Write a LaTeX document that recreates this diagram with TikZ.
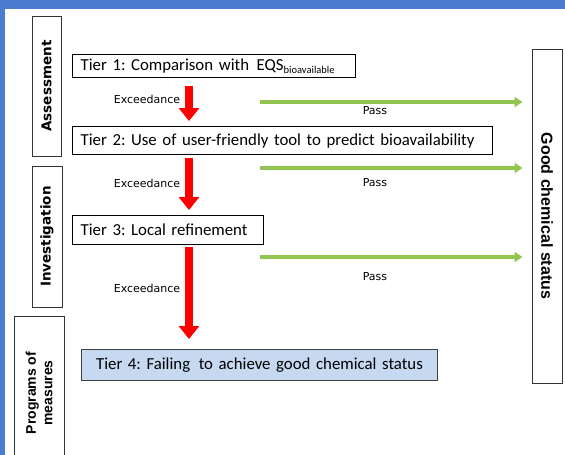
\documentclass[tikz,border=0pt]{standalone}
\usepackage{fontspec}
\setmainfont{Carlito}
\newfontfamily\dvs{DejaVu Sans}
\newfontfamily\lbs{Liberation Sans}
\usetikzlibrary{arrows.meta}
\definecolor{frameblue}{RGB}{74,124,208}
\definecolor{passgreen}{RGB}{146,196,80}
\definecolor{tierfill}{RGB}{198,217,241}
\frenchspacing
\begin{document}
\begin{tikzpicture}[x=1pt,y=-1pt,
  tierbox/.style={draw=black, line width=1.3pt, anchor=north west, inner xsep=8pt, inner ysep=0pt,
    font=\fontsize{16.8}{19}\selectfont, align=left},
  sidebox/.style={draw=black!80, line width=0.9pt, inner sep=0pt, rotate=90,
    font=\dvs\bfseries\fontsize{13.5}{15}\selectfont},
  redarrow/.style={draw=red, line width=8pt, -{Triangle[width=20pt,length=13pt]}},
  greenarrow/.style={draw=passgreen, line width=4pt, -{Triangle[width=10pt,length=8pt]}},
  lbl/.style={font=\dvs\fontsize{11}{13}\selectfont, inner sep=0pt}]
\useasboundingbox (0,0) rectangle (565,455);
\fill[white] (0,0) rectangle (565,455);
\fill[frameblue] (0,0) rectangle (565,9);
\fill[frameblue] (0,0) rectangle (5,455);

% side boxes
\node[sidebox, minimum width=140pt, minimum height=29pt] (ass) at (46.5,86) {Assessment};
\node[sidebox, minimum width=141pt, minimum height=30pt] (inv) at (47,236.5) {Investigation};
\begin{scope}
\clip (0,0) rectangle (565,455);
\node[sidebox, minimum width=154pt, minimum height=50pt, align=center,
  font=\lbs\bfseries\fontsize{14}{16.5}\selectfont] (prog) at (39,393) {Programs of\\measures};
\end{scope}
\node[sidebox, rotate=180, minimum width=334pt, minimum height=30pt,
  font=\lbs\bfseries\fontsize{16}{18}\selectfont] (good) at (547,216) {Good chemical status};

% tiers
\node[tierbox, text width=267pt, minimum height=23pt] (t1) at (72,54)
  {Tier 1: Comparison with\hspace{2pt} EQS\raisebox{-3pt}{\fontsize{10.5}{10}\selectfont bioavailable}};
\node[tierbox, text width=404pt, minimum height=28pt] (t2) at (72,126)
  {Tier 2: Use of user-friendly tool to predict bioavailability};
\node[tierbox, text width=175pt, minimum height=29pt] (t3) at (72,215)
  {Tier 3: Local refinement};
\node[tierbox, fill=tierfill, draw=black!75, line width=1pt, text width=340pt, minimum height=31pt, align=center] (t4) at (81,349)
  {Tier 4: Failing\hspace{3pt} to achieve good chemical status};

% red arrows
\coordinate (rx) at (189,0);
\draw[redarrow, shorten <=8pt, shorten >=5pt] (t1.south -| rx) -- (t2.north -| rx);
\draw[redarrow, shorten <=3pt, shorten >=5pt] (t2.south -| rx) -- (t3.north -| rx);
\draw[redarrow, shorten <=2pt, shorten >=10pt] (t3.south -| rx) -- (t4.north -| rx);

% green arrows
\coordinate (g1) at (260,102);
\coordinate (g2) at (260,168);
\coordinate (g3) at (260,257);
\draw[greenarrow, shorten >=9pt] (g1) -- (good.south |- g1);
\draw[greenarrow, shorten >=9pt] (g2) -- (good.south |- g2);
\draw[greenarrow, shorten >=9pt] (g3) -- (good.south |- g3);

% labels
\node[lbl] (e1) at (147,99) {Exceedance};
\node[lbl] (e2) at (147,183) {Exceedance};
\node[lbl] (e3) at (147,288) {Exceedance};
\node[lbl] (p1) at (375,111) {Pass};
\node[lbl] (p2) at (375,183) {Pass};
\node[lbl] (p3) at (375,277) {Pass};
\end{tikzpicture}
\end{document}
